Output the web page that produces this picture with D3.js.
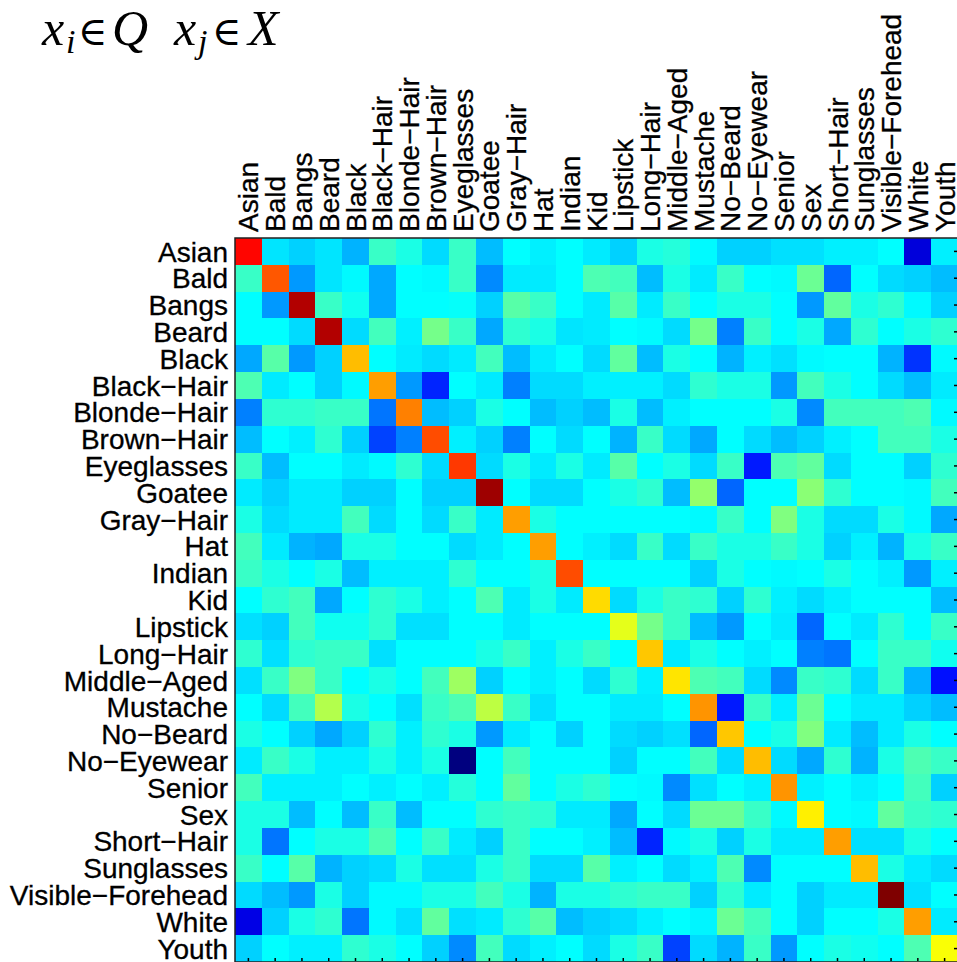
<!DOCTYPE html>
<html>
<head>
<meta charset="utf-8">
<script src="https://cdn.jsdelivr.net/npm/d3@7"></script>
<style>
  body { margin: 0; background: #fff; }
  svg { display: block; }
</style>
</head>
<body>
<div id="chart"></div>
<script>
// Attribute names (rows = x_i in Q, columns = x_j in X)
const attributes = [
  "Asian", "Bald", "Bangs", "Beard", "Black", "Black-Hair", "Blonde-Hair",
  "Brown-Hair", "Eyeglasses", "Goatee", "Gray-Hair", "Hat", "Indian", "Kid",
  "Lipstick", "Long-Hair", "Middle-Aged", "Mustache", "No-Beard", "No-Eyewear",
  "Senior", "Sex", "Short-Hair", "Sunglasses", "Visible-Forehead", "White", "Youth"
];

// Cell values (jet colour scale, 0 = dark blue, 1 = dark red)
const scores = [
  [0.87,0.35,0.33,0.35,0.30,0.43,0.40,0.34,0.43, 0.31,0.375,0.36,0.375,0.355,0.33,0.40,0.41,0.37, 0.33,0.33,0.345,0.345,0.36,0.36,0.375,0.09,0.36],
  [0.43,0.79,0.275,0.35,0.37,0.29,0.375,0.37,0.43, 0.26,0.355,0.355,0.375,0.45,0.44,0.31,0.40,0.355, 0.43,0.375,0.37,0.48,0.225,0.375,0.34,0.33,0.31],
  [0.375,0.275,0.95,0.43,0.39,0.29,0.375,0.375,0.38, 0.33,0.46,0.43,0.375,0.355,0.46,0.355,0.43,0.375, 0.40,0.40,0.375,0.275,0.47,0.40,0.42,0.37,0.33],
  [0.375,0.375,0.34,0.95,0.34,0.44,0.36,0.49,0.43, 0.29,0.42,0.40,0.35,0.355,0.375,0.37,0.34,0.49, 0.25,0.43,0.375,0.40,0.29,0.42,0.375,0.40,0.42],
  [0.29,0.46,0.275,0.33,0.69,0.375,0.355,0.34,0.355, 0.44,0.31,0.355,0.375,0.34,0.47,0.31,0.40,0.375, 0.30,0.36,0.345,0.37,0.375,0.375,0.30,0.175,0.37],
  [0.45,0.355,0.375,0.33,0.37,0.72,0.275,0.16,0.375, 0.355,0.25,0.34,0.34,0.36,0.36,0.36,0.34,0.42, 0.40,0.40,0.275,0.44,0.40,0.375,0.34,0.31,0.355],
  [0.25,0.42,0.42,0.43,0.43,0.24,0.75,0.31,0.33, 0.40,0.375,0.31,0.33,0.31,0.40,0.31,0.36,0.375, 0.375,0.375,0.40,0.26,0.44,0.44,0.44,0.45,0.37],
  [0.31,0.375,0.36,0.42,0.33,0.19,0.25,0.80,0.36, 0.33,0.25,0.375,0.34,0.375,0.30,0.43,0.34,0.29, 0.375,0.34,0.31,0.33,0.36,0.375,0.44,0.44,0.40],
  [0.43,0.31,0.375,0.375,0.355,0.37,0.42,0.34,0.82, 0.34,0.40,0.355,0.40,0.355,0.46,0.375,0.40,0.34, 0.43,0.15,0.45,0.47,0.34,0.375,0.375,0.33,0.42],
  [0.355,0.33,0.355,0.355,0.33,0.33,0.375,0.33,0.33, 0.97,0.375,0.34,0.34,0.375,0.40,0.42,0.31,0.52, 0.225,0.375,0.375,0.51,0.42,0.375,0.375,0.37,0.44],
  [0.40,0.34,0.355,0.355,0.44,0.34,0.375,0.34,0.43, 0.355,0.72,0.40,0.375,0.375,0.375,0.375,0.375,0.37, 0.43,0.375,0.50,0.40,0.34,0.34,0.40,0.37,0.29],
  [0.44,0.355,0.30,0.29,0.40,0.40,0.375,0.375,0.34, 0.355,0.375,0.72,0.375,0.36,0.34,0.43,0.34,0.43, 0.40,0.40,0.43,0.40,0.33,0.36,0.30,0.40,0.43],
  [0.43,0.40,0.375,0.40,0.31,0.36,0.36,0.36,0.42, 0.375,0.375,0.40,0.80,0.375,0.375,0.375,0.375,0.33, 0.40,0.375,0.37,0.375,0.40,0.375,0.36,0.275,0.36],
  [0.375,0.42,0.44,0.29,0.375,0.42,0.40,0.36,0.375, 0.45,0.355,0.40,0.355,0.66,0.34,0.40,0.43,0.42, 0.33,0.42,0.36,0.34,0.36,0.375,0.375,0.375,0.31],
  [0.345,0.33,0.44,0.39,0.39,0.42,0.345,0.345,0.375, 0.375,0.355,0.375,0.375,0.375,0.60,0.49,0.43,0.31, 0.275,0.375,0.355,0.225,0.375,0.355,0.42,0.375,0.43],
  [0.42,0.345,0.42,0.43,0.43,0.345,0.375,0.375,0.375, 0.40,0.43,0.36,0.40,0.43,0.375,0.68,0.355,0.40, 0.375,0.36,0.375,0.25,0.24,0.375,0.43,0.43,0.39],
  [0.345,0.43,0.50,0.43,0.375,0.40,0.375,0.44,0.53, 0.33,0.375,0.36,0.375,0.34,0.42,0.36,0.65,0.45, 0.44,0.34,0.26,0.43,0.42,0.34,0.43,0.30,0.14],
  [0.375,0.34,0.44,0.55,0.40,0.375,0.345,0.43,0.45, 0.56,0.43,0.345,0.375,0.375,0.355,0.355,0.375,0.73, 0.15,0.43,0.36,0.48,0.375,0.355,0.355,0.33,0.31],
  [0.40,0.375,0.33,0.29,0.33,0.42,0.36,0.42,0.40, 0.275,0.355,0.375,0.33,0.375,0.34,0.33,0.345,0.225, 0.68,0.375,0.40,0.50,0.355,0.31,0.355,0.40,0.375],
  [0.355,0.43,0.40,0.36,0.36,0.40,0.36,0.40,0.0, 0.375,0.44,0.375,0.375,0.375,0.33,0.375,0.375,0.44, 0.34,0.69,0.34,0.29,0.42,0.30,0.40,0.45,0.43],
  [0.44,0.36,0.36,0.36,0.375,0.36,0.375,0.36,0.41, 0.375,0.47,0.375,0.40,0.42,0.375,0.37,0.26,0.345, 0.375,0.36,0.73,0.36,0.375,0.36,0.375,0.44,0.33],
  [0.40,0.40,0.31,0.375,0.31,0.43,0.31,0.375,0.375, 0.42,0.43,0.42,0.355,0.355,0.29,0.375,0.34,0.48, 0.48,0.43,0.37,0.64,0.375,0.37,0.47,0.43,0.42],
  [0.40,0.24,0.375,0.40,0.40,0.45,0.375,0.43,0.355, 0.33,0.43,0.375,0.375,0.36,0.31,0.16,0.37,0.40, 0.33,0.40,0.355,0.355,0.72,0.345,0.345,0.40,0.375],
  [0.43,0.375,0.46,0.30,0.33,0.34,0.40,0.345,0.345, 0.40,0.43,0.34,0.34,0.46,0.36,0.375,0.34,0.36, 0.45,0.26,0.375,0.375,0.375,0.69,0.40,0.355,0.34],
  [0.34,0.31,0.275,0.40,0.33,0.37,0.37,0.40,0.40, 0.44,0.40,0.30,0.40,0.40,0.42,0.43,0.43,0.33, 0.42,0.355,0.375,0.33,0.355,0.355,1.0,0.345,0.375],
  [0.10,0.33,0.40,0.42,0.24,0.37,0.345,0.47,0.345, 0.355,0.42,0.46,0.31,0.33,0.34,0.36,0.375,0.365, 0.48,0.44,0.375,0.33,0.375,0.375,0.40,0.72,0.355],
  [0.33,0.375,0.36,0.36,0.42,0.40,0.375,0.33,0.26, 0.44,0.34,0.36,0.375,0.34,0.40,0.43,0.19,0.34, 0.30,0.43,0.275,0.375,0.40,0.39,0.375,0.45,0.62]
];

// Jet colour map stops
const jetStops = [0, 0.125, 0.375, 0.625, 0.875, 1];
const jetColors = ["#00007f", "#0000ff", "#00ffff", "#ffff00", "#ff0000", "#7f0000"];

const totalWidth = 957;
const totalHeight = 962;
const margin = { top: 238, right: -1, bottom: 0, left: 235 };
const width = totalWidth - margin.left - margin.right;
const height = totalHeight - margin.top - margin.bottom;

const svg = d3
  .select("#chart")
  .append("svg")
  .attr("width", totalWidth)
  .attr("height", totalHeight);

const g = svg
  .append("g")
  .attr("transform", `translate(${margin.left},${margin.top})`);

const x = d3.scaleBand().domain(attributes).range([0, width]);
const y = d3.scaleBand().domain(attributes).range([0, height]);

const color = d3
  .scaleLinear()
  .domain(jetStops)
  .range(jetColors)
  .interpolate(d3.interpolateRgb)
  .clamp(true);

// flatten into cells
const cells = [];
scores.forEach((row, i) => {
  row.forEach((v, j) => {
    cells.push({ row: attributes[i], col: attributes[j], value: v });
  });
});

g.append("g")
  .selectAll("rect")
  .data(cells)
  .enter()
  .append("rect")
  .attr("x", (d) => x(d.col))
  .attr("y", (d) => y(d.row))
  .attr("width", x.bandwidth() + 0.5)
  .attr("height", y.bandwidth() + 0.5)
  .attr("fill", (d) => color(d.value))
  .attr("shape-rendering", "crispEdges");

// frame
g.append("rect")
  .attr("x", 0)
  .attr("y", 0)
  .attr("width", width)
  .attr("height", height)
  .attr("fill", "none")
  .attr("stroke", "#222")
  .attr("stroke-width", 1.5);

// small inward ticks on right and bottom
const rightAxis = g
  .append("g")
  .attr("transform", `translate(${width - 1},0)`)
  .call(d3.axisRight(y).tickSize(-3).tickFormat(""));
const bottomAxis = g
  .append("g")
  .attr("transform", `translate(0,${height - 1})`)
  .call(d3.axisBottom(x).tickSize(-3).tickFormat(""));
[rightAxis, bottomAxis].forEach((a) => {
  a.select(".domain").remove();
  a.selectAll("line").attr("stroke", "#000").attr("stroke-width", 1.5);
});

const label = (s) => s.replace(/-/g, "\u2212");

// row labels
g.append("g")
  .selectAll("text")
  .data(attributes)
  .enter()
  .append("text")
  .attr("x", -7)
  .attr("y", (d) => y(d) + y.bandwidth() / 2)
  .attr("dy", "0.36em")
  .attr("text-anchor", "end")
  .attr("font-family", "Liberation Sans, Arial, sans-serif")
  .attr("font-size", 28)
  .attr("fill", "#000")
  .attr("stroke", "#000")
  .attr("stroke-width", 0.3)
  .text(label);

// column labels (rotated)
g.append("g")
  .selectAll("text")
  .data(attributes)
  .enter()
  .append("text")
  .attr(
    "transform",
    (d) => `translate(${x(d) + x.bandwidth() / 2},-6) rotate(-90)`
  )
  .attr("dy", "0.36em")
  .attr("text-anchor", "start")
  .attr("font-family", "Liberation Sans, Arial, sans-serif")
  .attr("font-size", 28)
  .attr("fill", "#000")
  .attr("stroke", "#000")
  .attr("stroke-width", 0.3)
  .text(label);

// title: x_i ∈ Q  x_j ∈ X
const title = svg
  .append("text")
  .attr("font-family", "Liberation Serif, DejaVu Serif, serif")
  .attr("fill", "#000");

const titleParts = [
  { t: "x", x: 42, italic: true },
  { t: "i", x: 66, italic: true, sub: true },
  { t: "\u2208", x: 78, sym: true },
  { t: "Q", x: 112, italic: true },
  { t: "x", x: 174, italic: true },
  { t: "j", x: 198, italic: true, sub: true },
  { t: "\u2208", x: 212, sym: true },
  { t: "X", x: 248, italic: true }
];
titleParts.forEach((p) => {
  title
    .append("tspan")
    .attr("x", p.x)
    .attr("y", p.sub ? 53 : 45)
    .attr("font-size", p.sub ? 34 : p.sym ? 40 : 50)
    .attr("font-family", p.sym ? "DejaVu Serif, serif" : null)
    .attr("font-weight", p.sym ? 300 : null)
    .attr("font-style", p.italic ? "italic" : "normal")
    .text(p.t);
});
</script>
</body>
</html>
